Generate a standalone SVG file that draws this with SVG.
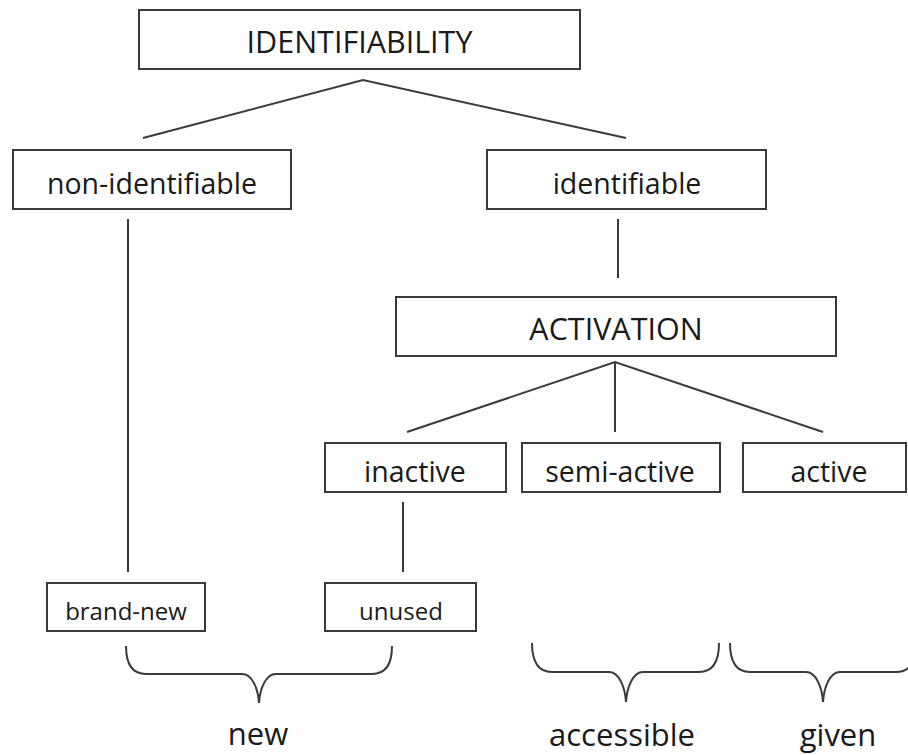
<svg xmlns="http://www.w3.org/2000/svg" width="908" height="755" viewBox="0 0 908 755">
<style>
.box{fill:#fff;stroke:#3a3a3a;stroke-width:2}
.ln{fill:none;stroke:#3a3a3a;stroke-width:2}
.t{font-family:"Open Sans","Noto Sans",sans-serif;fill:#1a1a1a;text-anchor:middle}
.big{font-size:28.5px}
.cap{font-size:30.5px}
.sm{font-size:24px}
.lab{font-size:31px}
</style>
<rect width="908" height="755" fill="#fff"/>
<g id="connectors">
<path class="ln" d="M143,138 L363,80 L626,138"/>
<path class="ln" d="M128,219 L128,572"/>
<path class="ln" d="M618,219 L618,278"/>
<path class="ln" d="M407,432 L615,362 L823,432 M615,362 L615,432"/>
<path class="ln" d="M403,502 L403,572"/>
</g>
<g id="n-identifiability"><rect class="box" x="139" y="10" width="441" height="59"/><text class="t cap" x="359.5" y="53">IDENTIFIABILITY</text></g>
<g id="n-nonidentifiable"><rect class="box" x="13" y="150" width="278" height="59"/><text class="t big" x="152" y="194">non-identifiable</text></g>
<g id="n-identifiable"><rect class="box" x="487" y="150" width="279" height="59"/><text class="t big" x="627" y="194">identifiable</text></g>
<g id="n-activation"><rect class="box" x="396" y="297" width="440" height="59"/><text class="t cap" x="616" y="340">ACTIVATION</text></g>
<g id="n-inactive"><rect class="box" x="325" y="443" width="181" height="49"/><text class="t big" x="415" y="482">inactive</text></g>
<g id="n-semiactive"><rect class="box" x="522" y="443" width="198" height="49"/><text class="t big" x="620" y="482">semi-active</text></g>
<g id="n-active"><rect class="box" x="743" y="443" width="163" height="49"/><text class="t big" x="829" y="482">active</text></g>
<g id="n-brandnew"><rect class="box" x="47" y="583" width="158" height="48"/><text class="t sm" x="126" y="620">brand-new</text></g>
<g id="n-unused"><rect class="box" x="325" y="583" width="151" height="48"/><text class="t sm" x="401" y="620">unused</text></g>
<g id="braces">
<path class="ln" d="M126,646 C126,664 132,674 146,674 L242,674 C252,674 258,688 259,703 C260,688 266,674 276,674 L372,674 C386,674 392,664 392,646"/>
<path class="ln" d="M532,643 C532,661 538,672 552,672 L609,672 C619,672 625,687 626,702 C627,687 633,672 643,672 L699,672 C713,672 719,661 719,643"/>
<path class="ln" d="M730,643 C730,661 736,672 750,672 L806,672 C816,672 822,687 823,702 C824,687 830,672 840,672 L896,672 C910,672 916,661 916,643"/>
</g>
<g id="labels">
<text class="t lab" x="258" y="745">new</text>
<text class="t lab" x="622" y="746">accessible</text>
<text class="t lab" x="838" y="746">given</text>
</g>
</svg>
